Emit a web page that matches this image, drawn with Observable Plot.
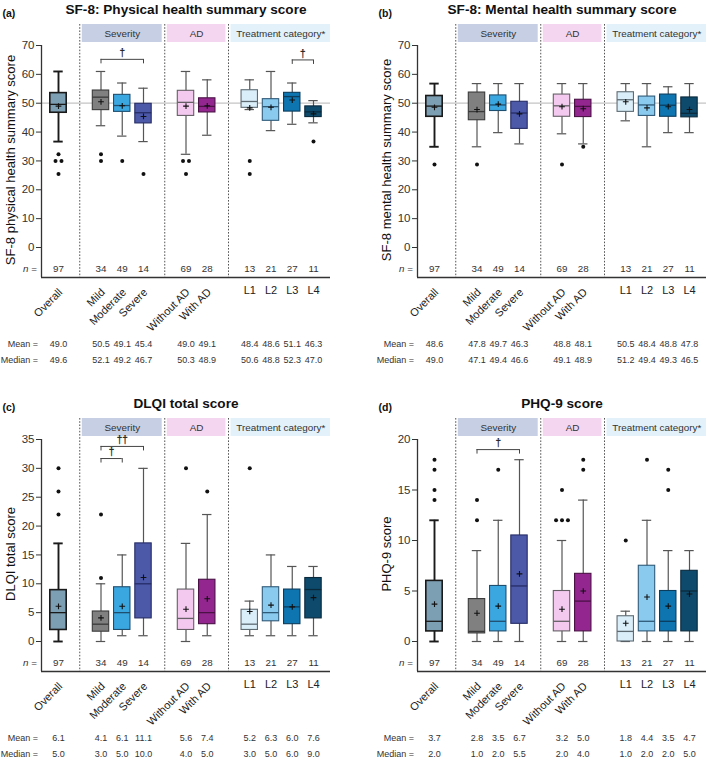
<!DOCTYPE html>
<html>
<head>
<meta charset="utf-8">
<script src="https://cdn.jsdelivr.net/npm/d3@7"></script>
<script src="https://cdn.jsdelivr.net/npm/@observablehq/plot@0.6"></script>
<style>
  body { margin: 0; background: #fff; font-family: "Liberation Sans", Arial, Helvetica, sans-serif; }
  #wrap { position: relative; width: 709px; height: 762px; overflow: hidden; background: #fff; }
  .panel { position: absolute; }
  .panel svg { overflow: visible; }
</style>
</head>
<body>
<div id="wrap"></div>
<script>
// ---------- categories ----------
const slots = ["Overall", "_g1", "Mild", "Moderate", "Severe", "_g2", "Without AD", "With AD", "_g3", "L1", "L2", "L3", "L4"];
const categories = ["Overall", "Mild", "Moderate", "Severe", "Without AD", "With AD", "L1", "L2", "L3", "L4"];
const rotatedLabels = ["Overall", "Mild", "Moderate", "Severe", "Without AD", "With AD"];
const nValues = [97, 34, 49, 14, 69, 28, 13, 21, 27, 11];
const groupNames = ["Severity", "AD", "Treatment category*"];

// ---------- (a) SF-8 physical ----------
const physMean   = [49.0, 50.5, 49.1, 45.4, 49.0, 49.1, 48.4, 48.6, 51.1, 46.3];
const physMedian = [49.6, 52.1, 49.2, 46.7, 50.3, 48.9, 50.6, 48.8, 52.3, 47.0];
const physQ1     = [46.7, 47.6, 47.0, 43.0, 45.6, 46.8, 48.4, 43.9, 47.1, 45.2];
const physQ3     = [53.5, 54.4, 52.9, 49.8, 54.3, 51.7, 54.5, 51.4, 53.6, 48.9];
const physLow    = [36.7, 42.2, 38.6, 36.7, 32.3, 38.9, 47.8, 40.5, 42.7, 43.2];
const physHigh   = [61.0, 61.0, 57.0, 55.2, 61.0, 58.1, 58.1, 61.0, 57.0, 50.9];
const physOutliers = [[32.3, 30, 30, 25.5], [32.3, 30], [30], [25.5], [30, 30, 25.5], [], [30, 25.5], [], [], [36.7]];
const physBrackets = [
  {from: "Mild", to: "Severe", level: 65.2, label: "†"},
  {from: "L3", to: "L4", level: 65.0, label: "†"}
];

// ---------- (b) SF-8 mental ----------
const mentMean   = [48.6, 47.8, 49.7, 46.3, 48.8, 48.1, 50.5, 48.4, 48.8, 47.8];
const mentMedian = [49.0, 47.1, 49.4, 46.6, 49.1, 48.9, 51.2, 49.4, 49.3, 46.5];
const mentQ1     = [45.3, 44.1, 47.3, 41.1, 45.3, 45.2, 47.0, 45.6, 45.3, 45.1];
const mentQ3     = [52.5, 53.7, 52.7, 50.5, 53.0, 51.2, 53.8, 52.3, 53.0, 52.0];
const mentLow    = [34.9, 34.9, 39.8, 35.9, 39.4, 35.9, 43.9, 34.9, 39.8, 39.8];
const mentHigh   = [56.8, 56.8, 56.8, 56.8, 56.8, 56.8, 56.8, 56.8, 55.7, 56.8];
const mentOutliers = [[28.8], [28.8], [], [], [28.8], [34.9], [], [], [], []];
const mentBrackets = [];

// ---------- (c) DLQI ----------
const dlqiMean   = [6.1, 4.1, 6.1, 11.1, 5.6, 7.4, 5.2, 6.3, 6.0, 7.6];
const dlqiMedian = [5.0, 3.0, 5.0, 10.0, 4.0, 5.0, 3.0, 5.0, 6.0, 9.0];
const dlqiQ1     = [2.0, 1.7, 2.0, 4.0, 2.0, 3.0, 2.0, 3.5, 3.0, 4.0];
const dlqiQ3     = [8.9, 5.2, 9.4, 17.0, 9.0, 10.7, 5.5, 9.4, 9.0, 11.0];
const dlqiLow    = [0, 0, 1, 1, 0, 1, 1, 1, 1, 1];
const dlqiHigh   = [17, 10, 15, 30, 17, 22, 7, 15, 13, 13];
const dlqiOutliers = [[30, 26, 22], [22, 11], [], [], [30], [26], [30], [], [], []];
const dlqiBrackets = [
  {from: "Mild", to: "Severe", level: 33.8, label: "††"},
  {from: "Mild", to: "Moderate", level: 31.7, label: "†"}
];

// ---------- (d) PHQ-9 ----------
const phqMean   = [3.7, 2.8, 3.5, 6.7, 3.2, 5.0, 1.8, 4.4, 3.5, 4.7];
const phqMedian = [2.0, 1.0, 2.0, 5.5, 2.0, 4.0, 1.0, 2.0, 2.0, 5.0];
const phqQ1     = [1.0, 0.8, 1.0, 1.75, 1.0, 1.0, 0.0, 1.0, 1.0, 1.0];
const phqQ3     = [6.0, 4.2, 5.5, 10.5, 5.0, 6.7, 2.5, 7.5, 5.0, 7.0];
const phqLow    = [0, 0, 0, 0, 0, 0, 0, 0, 0, 0];
const phqHigh   = [12, 9, 12, 18, 10, 14, 3, 12, 9, 9];
const phqOutliers = [[18, 17, 15, 14], [14, 12], [17], [], [15, 12, 12, 12], [18, 17], [10], [18], [17, 15], []];
const phqBrackets = [
  {from: "Mild", to: "Severe", level: 19.0, label: "†"}
];

// ---------- styles ----------
const boxFills   = ["#7d9fb3", "#808080", "#3ba7e0", "#4c58a8", "#f3c9ef", "#93278f", "#daeef9", "#8bcaef", "#0f75b0", "#0d4a6c"];
const boxStrokes = ["#1a1a1a", "#3a3a3a", "#1f4f70", "#262d66", "#666066", "#4a1245", "#5e6b73", "#2f5a78", "#0a3d5e", "#0a2a3c"];
const whiskerStrokes = ["#1a1a1a", "#555", "#555", "#555", "#555", "#555", "#555", "#555", "#555", "#555"];
const headerFills = ["#c6cfe3", "#f5d6f1", "#e2f1fa"];
const FONT = "'Liberation Sans', Arial, Helvetica, sans-serif";

const W = 333, H = 376, FT = 24, FB = 277, FL = 41, FR = 330;
const X_PAD = 0.8;
const xMin = -X_PAD, xMax = slots.length - 1 + X_PAD;
const gapIdx = slots.map((s, i) => s.startsWith("_") ? i : -1).filter(i => i >= 0);

function panel(cfg) {
  const rows = categories.map((c, i) => ({
    cat: c, slot: slots.indexOf(c), n: nValues[i],
    mean: cfg.mean[i], median: cfg.median[i], q1: cfg.q1[i], q3: cfg.q3[i],
    lo: cfg.lo[i], hi: cfg.hi[i],
    fill: boxFills[i], stroke: boxStrokes[i], wstroke: whiskerStrokes[i],
    wwidth: i === 0 ? 1.9 : 1.2, bwidth: i === 0 ? 1.6 : 1.1
  }));
  const outRows = [];
  categories.forEach((c, i) => {
    const vals = cfg.outliers[i];
    const counts = d3.rollup(vals, v => v.length, v => v);
    const seen = new Map();
    vals.forEach(v => {
      const k = counts.get(v), j = seen.get(v) || 0;
      seen.set(v, j + 1);
      outRows.push({x: slots.indexOf(c) + (j - (k - 1) / 2) * 0.28, y: v});
    });
  });
  const groups = groupNames.map((g, i) => {
    const x1 = gapIdx[i] + 0.12;
    const x2 = i + 1 < gapIdx.length ? gapIdx[i + 1] - 0.12 : xMax;
    return {name: g, x1, x2, mid: (x1 + x2) / 2, fill: headerFills[i]};
  });
  const br = cfg.brackets.map(b => ({...b, a: slots.indexOf(b.from), b2: slots.indexOf(b.to)}));
  const brEnds = br.flatMap(b => [{x: b.a, level: b.level}, {x: b.b2, level: b.level}]);

  const T = {lineAnchor: "middle", fill: "#333"};
  const marks = [
    Plot.rect(groups, {x1: "x1", x2: "x2", fill: "fill", insetBottom: (FB - FT) - 18}),
    Plot.text(groups, {...T, x: "mid", text: "name", frameAnchor: "top", textAnchor: "middle", dy: 9, fontSize: 9.9}),
    Plot.ruleX(gapIdx, {stroke: "#555", strokeWidth: 1, strokeDasharray: "1.6,1.6"}),
  ];
  if (cfg.ref != null) marks.push(Plot.ruleY([cfg.ref], {stroke: "#c4c4c4", strokeWidth: 1.3}));
  marks.push(
    // axes lines
    Plot.ruleX([xMin], {y1: cfg.max, y2: 0, insetBottom: -30, stroke: "#333", strokeWidth: 1.3}),
    Plot.ruleY([0], {dy: 30, stroke: "#333", strokeWidth: 1.3}),
    // whiskers
    Plot.ruleX(rows, {x: "slot", y1: "lo", y2: "hi", stroke: "wstroke", strokeWidth: "wwidth"}),
    Plot.ruleY(rows, {y: "lo", x1: "slot", x2: "slot", insetLeft: -4.7, insetRight: -4.7, stroke: "wstroke", strokeWidth: "wwidth"}),
    Plot.ruleY(rows, {y: "hi", x1: "slot", x2: "slot", insetLeft: -4.7, insetRight: -4.7, stroke: "wstroke", strokeWidth: "wwidth"}),
    // boxes
    Plot.rect(rows, {x1: "slot", x2: "slot", y1: "q1", y2: "q3", insetLeft: -8.2, insetRight: -8.2, fill: "fill", stroke: "stroke", strokeWidth: "bwidth"}),
    Plot.ruleY(rows, {y: "median", x1: "slot", x2: "slot", insetLeft: -8.2, insetRight: -8.2, stroke: "stroke", strokeWidth: 1.3}),
    Plot.dot(rows, {x: "slot", y: "mean", symbol: "plus", r: 2, stroke: "#111", strokeWidth: 1.1}),
    Plot.dot(outRows, {x: "x", y: "y", r: 2, fill: "#111", stroke: "none"}),
    // brackets
    Plot.ruleY(br, {y: "level", x1: "a", x2: "b2", stroke: "#444", strokeWidth: 1}),
    Plot.ruleX(brEnds, {x: "x", y1: "level", y2: "level", insetBottom: -4.5, stroke: "#444", strokeWidth: 1}),
    Plot.text(br, {...T, x: d => (d.a + d.b2) / 2, y: "level", text: "label", textAnchor: "middle", dy: -6.5, fontSize: 10, fill: "#222", stroke: "#222", strokeWidth: 0.25}),
    // n row
    Plot.text(rows, {...T, x: "slot", text: "n", frameAnchor: "bottom", textAnchor: "middle", dy: -9, fontSize: 9.8}),
    Plot.text(["n"], {...T, frameAnchor: "bottom-left", textAnchor: "end", dx: -13, dy: -9, fontSize: 9.8, fontStyle: "italic"}),
    Plot.text(["="], {...T, frameAnchor: "bottom-left", textAnchor: "end", dx: -4.5, dy: -9, fontSize: 9.8}),
    // x labels
    Plot.text(rows.filter(d => rotatedLabels.includes(d.cat)), {...T, x: "slot", text: "cat", frameAnchor: "bottom", rotate: -45, textAnchor: "end", dx: 2, dy: 13, fontSize: 11, fill: "#222"}),
    Plot.text(rows.filter(d => !rotatedLabels.includes(d.cat)), {...T, x: "slot", text: "cat", frameAnchor: "bottom", textAnchor: "middle", dy: 13, fontSize: 11, fill: "#222"}),
    // mean / median rows
    Plot.text(rows, {...T, x: "slot", text: d => d.mean.toFixed(1), frameAnchor: "bottom", textAnchor: "middle", dy: 67, fontSize: 9}),
    Plot.text(rows, {...T, x: "slot", text: d => d.median.toFixed(1), frameAnchor: "bottom", textAnchor: "middle", dy: 83, fontSize: 9}),
    Plot.text(["Mean ="], {...T, frameAnchor: "bottom-left", textAnchor: "end", dx: -3.5, dy: 67, fontSize: 9}),
    Plot.text(["Median ="], {...T, frameAnchor: "bottom-left", textAnchor: "end", dx: -3.5, dy: 83, fontSize: 9}),
    // y label
    Plot.text([cfg.ylabel], {...T, frameAnchor: "left", textAnchor: "middle", rotate: -90, dx: -31, dy: 9, fontSize: 13, fill: "#111"}),
    // title & panel letter
    Plot.text([cfg.title], {...T, frameAnchor: "top", textAnchor: "middle", dy: -14.5, fontSize: 13.6, fontWeight: "bold", fill: "#111"}),
    Plot.text([cfg.letter], {...T, frameAnchor: "top-left", textAnchor: "start", dx: -39, dy: -10.5, fontSize: 10.5, fontWeight: "bold", fill: "#111"})
  );

  return Plot.plot({
    width: W, height: H,
    marginTop: FT, marginBottom: H - FB, marginLeft: FL, marginRight: W - FR,
    style: {fontFamily: FONT, fontSize: "11.5px", background: "transparent", color: "#333", overflow: "visible"},
    x: {domain: [xMin, xMax], axis: null},
    y: {domain: [0, cfg.max], range: [FB - 30, FT + 21], ticks: cfg.ticks, tickSize: 5, tickPadding: 2, label: null},
    color: {type: "identity"},
    marks
  });
}

const panels = [
  {letter: "(a)", title: "SF-8: Physical health summary score", ylabel: "SF-8 physical health summary score",
   max: 70, ticks: d3.range(0, 71, 10), ref: 50,
   mean: physMean, median: physMedian, q1: physQ1, q3: physQ3, lo: physLow, hi: physHigh, outliers: physOutliers, brackets: physBrackets,
   left: 0, top: 0},
  {letter: "(b)", title: "SF-8: Mental health summary score", ylabel: "SF-8 mental health summary score",
   max: 70, ticks: d3.range(0, 71, 10), ref: 50,
   mean: mentMean, median: mentMedian, q1: mentQ1, q3: mentQ3, lo: mentLow, hi: mentHigh, outliers: mentOutliers, brackets: mentBrackets,
   left: 376, top: 0},
  {letter: "(c)", title: "DLQI total score", ylabel: "DLQI total score",
   max: 35, ticks: d3.range(0, 36, 5), ref: null,
   mean: dlqiMean, median: dlqiMedian, q1: dlqiQ1, q3: dlqiQ3, lo: dlqiLow, hi: dlqiHigh, outliers: dlqiOutliers, brackets: dlqiBrackets,
   left: 0, top: 394},
  {letter: "(d)", title: "PHQ-9 score", ylabel: "PHQ-9 score",
   max: 20, ticks: d3.range(0, 21, 5), ref: null,
   mean: phqMean, median: phqMedian, q1: phqQ1, q3: phqQ3, lo: phqLow, hi: phqHigh, outliers: phqOutliers, brackets: phqBrackets,
   left: 376, top: 394}
];

const wrap = document.getElementById("wrap");
for (const p of panels) {
  const div = document.createElement("div");
  div.className = "panel";
  div.style.left = p.left + "px";
  div.style.top = p.top + "px";
  div.appendChild(panel(p));
  wrap.appendChild(div);
}
</script>
</body>
</html>
